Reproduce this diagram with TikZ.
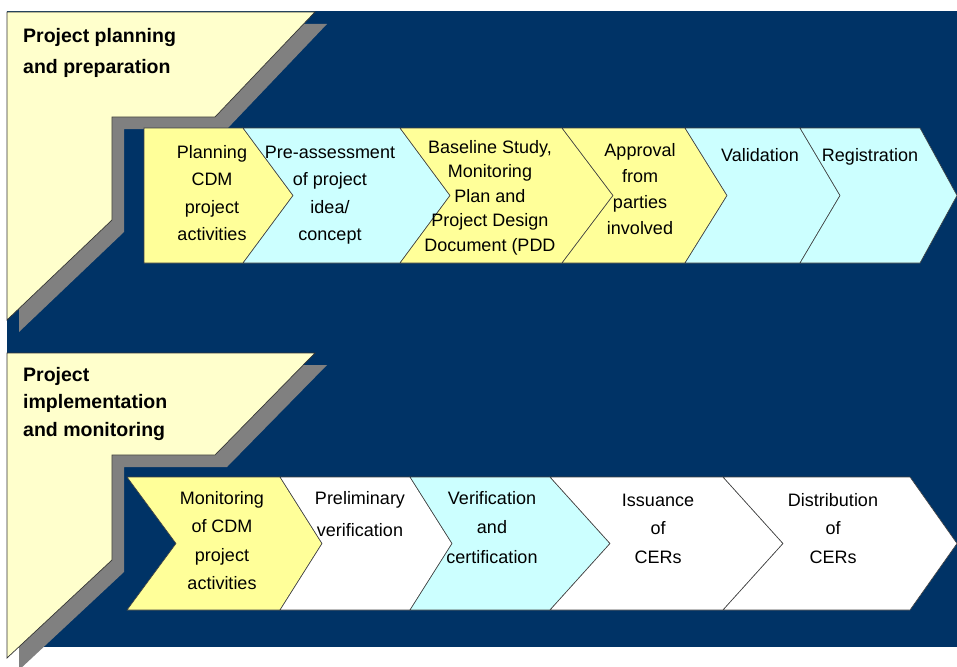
\documentclass[tikz,border=0pt]{standalone}
\usepackage{fontspec}
\setmainfont{Liberation Sans}
\usepackage{tikz}
\usetikzlibrary{shapes,calc}
\definecolor{navy}{RGB}{0,51,102}
\definecolor{paneyellow}{RGB}{255,255,204}
\definecolor{chevyellow}{RGB}{255,255,153}
\definecolor{chevcyan}{RGB}{204,255,255}
\definecolor{shadowgray}{RGB}{128,128,128}

\begin{document}
\begin{tikzpicture}[x=1pt,y=-1pt,
    panel/.style={fill=paneyellow, draw=black!80, line width=0.7pt},
    chevron/.style={draw=black!75, line width=0.6pt},
    steptext/.style={align=center, inner sep=0pt, anchor=base, font=\fontsize{18}{27.5}\selectfont},
    phase/.style={align=left, inner sep=0pt, anchor=base west, font=\bfseries\fontsize{19.5}{31}\selectfont}]
    \useasboundingbox (0,0) rectangle (957,666);
    \fill[navy] (7,11) rectangle (957,647);

    \fill[shadowgray] (19,24) -- (327,24) -- (227,129) -- (124,129) -- (124,232) -- (19,332) -- cycle;
    \draw[panel] (7,12) -- (315,12) -- (215,117) -- (112,117) -- (112,220) -- (7,320) -- cycle;
    \fill[shadowgray] (19,365) -- (327,365) -- (227,467) -- (124,467) -- (124,572) -- (19,670) -- cycle;
    \draw[panel] (7,353) -- (315,353) -- (215,455) -- (112,455) -- (112,560) -- (7,658) -- cycle;

    \node[phase] (plan) at (23,74) {Project planning\\and preparation};
    \node[phase, font=\bfseries\fontsize{19.5}{27.5}\selectfont] (impl) at (23,436) {Project\\implementation\\and monitoring};

    \filldraw[chevron, fill=chevyellow] (144,128) -- (243,128) -- (293,195.5) -- (243,263) -- (144,263) -- cycle;
    \filldraw[chevron, fill=chevcyan] (243,128) -- (400,128) -- (450,195.5) -- (400,263) -- (243,263) -- (293,195.5) -- cycle;
    \filldraw[chevron, fill=chevyellow] (400,128) -- (562,128) -- (613,195.5) -- (562,263) -- (400,263) -- (450,195.5) -- cycle;
    \filldraw[chevron, fill=chevyellow] (562,128) -- (685,128) -- (727,195.5) -- (685,263) -- (562,263) -- (613,195.5) -- cycle;
    \filldraw[chevron, fill=chevcyan] (685,128) -- (800,128) -- (840,195.5) -- (800,263) -- (685,263) -- (727,195.5) -- cycle;
    \filldraw[chevron, fill=chevcyan] (800,128) -- (920,128) -- (957,195.5) -- (920,263) -- (800,263) -- (840,195.5) -- cycle;

    \node[steptext] (planning) at (212,240.5) {Planning\\CDM\\project\\activities};
    \node[steptext] (preassess) at (330,240.5) {Pre-assessment\\of project\\idea/\\concept};
    \node[steptext, font=\fontsize{18}{24.5}\selectfont] (baseline) at (490,251) {Baseline Study,\\Monitoring\\Plan and\\Project Design\\Document (PDD};
    \node[steptext, font=\fontsize{18}{26}\selectfont] (approval) at (640,234) {Approval\\from\\parties\\involved};
    \node[steptext] (validation) at (760,161) {Validation};
    \node[steptext] (registration) at (870,161) {Registration};

    \filldraw[chevron, fill=chevyellow] (127,477) -- (280,477) -- (322,543.5) -- (280,610) -- (127,610) -- (176,543.5) -- cycle;
    \filldraw[chevron, fill=white] (280,477) -- (410,477) -- (452,543.5) -- (410,610) -- (280,610) -- (322,543.5) -- cycle;
    \filldraw[chevron, fill=chevcyan] (410,477) -- (550,477) -- (610,543.5) -- (550,610) -- (410,610) -- (452,543.5) -- cycle;
    \filldraw[chevron, fill=white] (550,477) -- (723,477) -- (783,543.5) -- (723,610) -- (550,610) -- (610,543.5) -- cycle;
    \filldraw[chevron, fill=white] (723,477) -- (910,477) -- (957,543.5) -- (910,610) -- (723,610) -- (783,543.5) -- cycle;

    \node[steptext, font=\fontsize{18}{28.5}\selectfont] (monitoring) at (222,589.5) {Monitoring\\of CDM\\project\\activities};
    \node[steptext, font=\fontsize{18}{32}\selectfont] (prelim) at (360,536) {Preliminary\\verification};
    \node[steptext, font=\fontsize{18}{29.5}\selectfont] (verif) at (492,563) {Verification\\and\\certification};
    \node[steptext, font=\fontsize{18}{28.5}\selectfont] (issuance) at (658,563) {Issuance\\of\\CERs};
    \node[steptext, font=\fontsize{18}{28.5}\selectfont] (distrib) at (833,563) {Distribution\\of\\CERs};
\end{tikzpicture}
\end{document}
